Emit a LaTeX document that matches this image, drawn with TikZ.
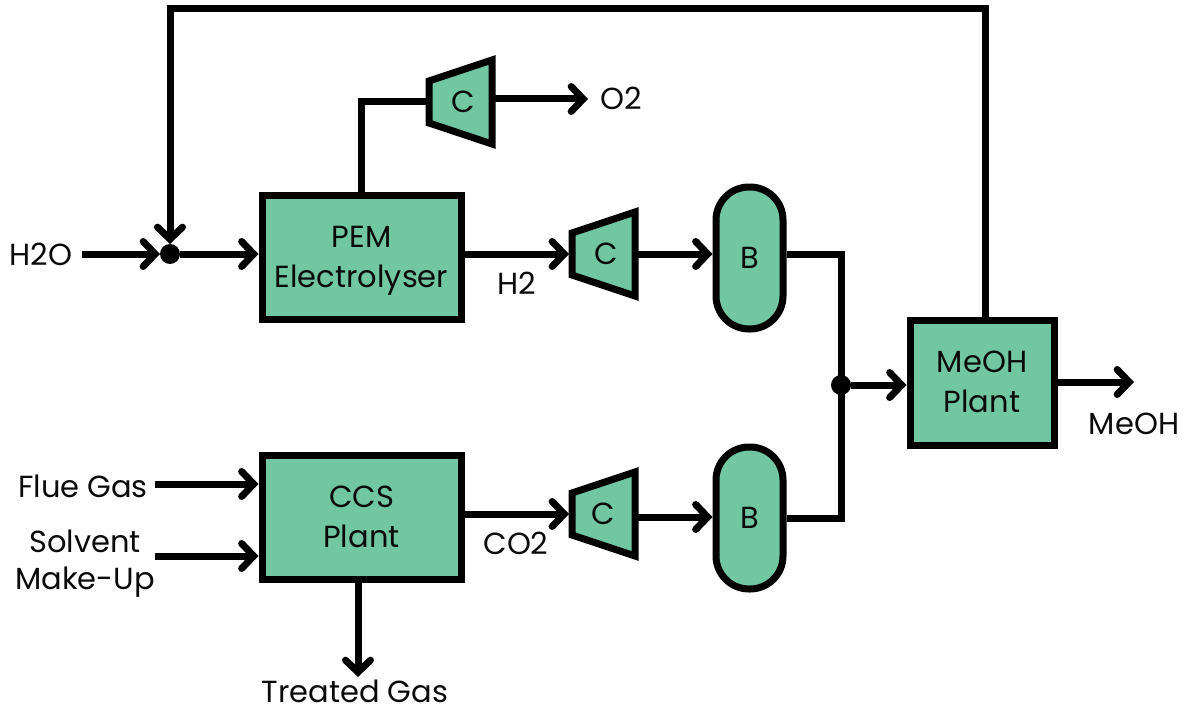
\documentclass[tikz,border=0pt]{standalone}
\usepackage{fontspec}
\setmainfont{Poppins}
\usetikzlibrary{arrows.meta}
\definecolor{fillgreen}{HTML}{70C7A1}
\definecolor{inkc}{HTML}{0A0A0A}
\newcommand{\topline}{\rule{0pt}{32pt}}
\tikzset{
  x=1pt,y=-1pt,
  lbl/.style={font=\fontsize{30.5}{37}\selectfont,text=inkc,inner sep=0pt,align=center},
  plantbox/.style={draw=black,fill=fillgreen,line width=7pt,align=center,inner sep=0pt,font=\fontsize{30.5}{40}\selectfont,text=inkc},
  drum/.style={draw=black,fill=fillgreen,line width=7pt,rounded corners=33pt,inner sep=0pt,minimum width=67pt,minimum height=142pt,font=\fontsize{30.5}{30}\selectfont,text=inkc},
  compbody/.style={draw=black,fill=fillgreen,line width=7pt,miter limit=10},
  comptext/.style={inner sep=0pt,outer sep=0pt,minimum width=69pt,minimum height=84pt,font=\fontsize{30.5}{30}\selectfont,text=inkc},
  flow/.style={line width=7pt,draw=black,-{Straight Barb[length=12pt,width=25pt,line width=7pt,line cap=round]}},
  line/.style={line width=7pt,draw=black},
  dot/.style={circle,fill=black,inner sep=0pt,minimum size=20pt,outer sep=0pt}
}
% name, centre x, centre y, text offset right, text offset down
\newcommand{\compressor}[5]{%
  \draw[compbody] (#2-31.5,#3-21) -- (#2+31.5,#3-42) -- (#2+31.5,#3+42) -- (#2-31.5,#3+21) -- cycle;
  \node[comptext] (#1) at (#2,#3) {\hspace{#4}\raisebox{-#5}{C}};
}
\begin{document}
\begin{tikzpicture}
\useasboundingbox (0,0) rectangle (1186,706);

% blocks
\node[plantbox,minimum width=199pt,minimum height=124pt] (pem) at (361.5,257) {\topline PEM\\\strut Electrolyser};
\node[plantbox,minimum width=199pt,minimum height=124pt] (ccs) at (361.5,517) {\topline CCS\\\strut Plant};
\node[plantbox,minimum width=144pt,minimum height=125pt] (meoh) at (982,382.5) {\topline MeOH\\\strut Plant};
\compressor{c1}{460.5}{102}{6pt}{0pt}
\compressor{c2}{603.5}{254}{6pt}{0pt}
\compressor{c3}{603.5}{514}{0pt}{2pt}
\node[drum] (b1) at (749.5,258) {B};
\node[drum] (b2) at (749.5,518) {B};
\node[dot] (j1) at (170,254) {};
\node[dot] (j2) at (841,385) {};

% labels
\node[lbl] (th2o) at (41,254) {H2O};
\node[lbl] (to2) at (621,98) {O2};
\node[lbl] (th2) at (517,283) {H2};
\node[lbl] (tco2) at (516,543) {CO2};
\node[lbl] (tmeoh) at (1134,424) {MeOH};
\node[lbl] (tflue) at (83,486) {Flue Gas};
\node[lbl] (tsolv) at (85,564) {\strut Solvent\\\strut Make-Up};
\node[lbl,anchor=base] (ttreat) at (355,702) {Treated Gas};

% free ends
\coordinate (h2ostart) at (82,254);
\coordinate (o2end) at (588,99);
\coordinate (meohend) at (1134,382);
\coordinate (fluestart) at (155,484);
\coordinate (solvstart) at (155,556);
\coordinate (treatend) at (358,677);
\coordinate (loopa) at (985,9);
\coordinate (loopb) at (170,9);

% connectors
\draw[flow] (h2ostart) -- (j1.west);
\draw[flow] (j1.east) -- (j1.east -| pem.west);
\draw[flow] (loopa |- meoh.north) -- (loopa) -- (loopb) -- (j1.north);
\draw[line] (pem.north) -- (pem.north |- c1.center) -- (c1.west);
\draw[flow] ([yshift=3pt]c1.east) -- (o2end);
\draw[flow] (c2.west -| pem.east) -- (c2.west);
\draw[flow] (c2.east) -- (c2.east -| b1.west);
\draw[flow] (c3.west -| ccs.east) -- (c3.west);
\draw[flow] ([yshift=-3pt]c3.east) -- ([yshift=-3pt]c3.east -| b2.west);
\draw[line] (c2.east -| b1.east) -- (c2.east -| j2) -- (j2 |- b2.east) -- (b2.east);
\draw[flow] (j2.east) -- (j2.east -| meoh.west);
\draw[flow] (meoh.east |- meohend) -- (meohend);
\draw[flow] (fluestart) -- (fluestart -| ccs.west);
\draw[flow] (solvstart) -- (solvstart -| ccs.west);
\draw[flow] (treatend |- ccs.south) -- (treatend);
\end{tikzpicture}
\end{document}
